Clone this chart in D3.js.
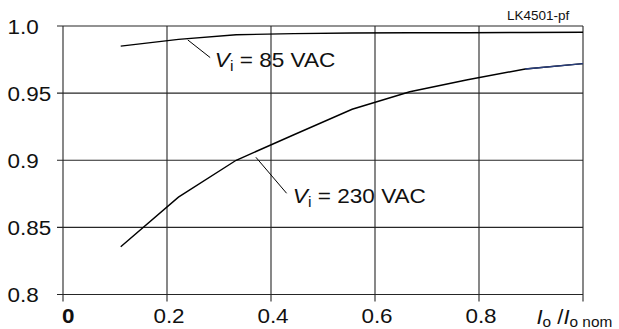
<!DOCTYPE html>
<html>
<head>
<meta charset="utf-8">
<script src="https://cdn.jsdelivr.net/npm/d3@7"></script>
<style>
  body { margin: 0; background: #fff; }
  svg { display: block; font-family: Arial, "Liberation Sans", sans-serif; }
</style>
</head>
<body>
<div id="chart"></div>
<script>
// Values
const xTicks = [0, 0.2, 0.4, 0.6, 0.8, 1.0];
const xTickLabels = ["0", "0.2", "0.4", "0.6", "0.8", ""];
const yTicks = [0.8, 0.85, 0.9, 0.95, 1.0];
const yTickLabels = ["0.8", "0.85", "0.9", "0.95", "1.0"];

// load fraction I_o / I_o nom
const load = [0.111, 0.222, 0.333, 0.444, 0.556, 0.667, 0.778, 0.889, 1.0];
// power factor at Vi = 85 VAC
const pf85 = [0.985, 0.990, 0.9935, 0.9943, 0.9948, 0.995, 0.995, 0.9952, 0.9953];
// power factor at Vi = 230 VAC
const pf230 = [0.8355, 0.8725, 0.9, 0.919, 0.938, 0.951, 0.960, 0.968, 0.972];

// label texts and where they point (data units)
const annotations = [
  { value: "85 VAC", from: [0.240, 0.9896], to: [0.283, 0.9765], at: [0.292, 0.9697] },
  { value: "230 VAC", from: [0.371, 0.9022], to: [0.430, 0.8754], at: [0.442, 0.8685] }
];

const width = 619, height = 329;

// Plot frame
let x = d3.scaleLinear().domain([0, 1]).range([63, 583]);
let y = d3.scaleLinear().domain([0.8, 1.0]).range([294.5, 26]);

let svg = d3.select("#chart").append("svg")
  .attr("width", width)
  .attr("height", height);

// Grid (horizontal lines stick out on the left, vertical ones below)
let gGrid = svg.append("g")
  .attr("stroke", "#262626")
  .attr("stroke-width", 1.1);

gGrid.selectAll("line.h")
  .data(yTicks)
  .enter().append("line")
  .attr("class", "h")
  .attr("x1", x(0) - 6)
  .attr("x2", x(1))
  .attr("y1", d => y(d))
  .attr("y2", d => y(d));

gGrid.selectAll("line.v")
  .data(xTicks)
  .enter().append("line")
  .attr("class", "v")
  .attr("x1", d => x(d))
  .attr("x2", d => x(d))
  .attr("y1", y(1.0))
  .attr("y2", y(0.8) + 7);

// Tick labels
svg.append("g")
  .selectAll("text")
  .data(yTicks)
  .enter().append("text")
  .attr("transform", d => "translate(7.5," + (y(d) + 7.5) + ") scale(1.07,1)")
  .attr("font-size", 21)
  .attr("fill", "#111")
  .text((d, i) => yTickLabels[i]);

svg.append("g")
  .selectAll("text")
  .data(xTicks)
  .enter().append("text")
  .attr("transform", (d, i) => "translate(" + (i === 0 ? x(d) - 1 : x(d) + 2) + ",323) scale(1.07,1)")
  .attr("text-anchor", (d, i) => i === 0 ? "start" : "middle")
  .attr("font-size", 21)
  .attr("font-weight", (d, i) => i === 0 ? "bold" : "normal")
  .attr("fill", "#111")
  .text((d, i) => xTickLabels[i]);

// Axis title  Io / Io nom
let xTitle = svg.append("text")
  .attr("transform", "translate(536.5,324) scale(1.1,1)")
  .attr("font-size", 20)
  .attr("fill", "#111");
xTitle.append("tspan").attr("font-style", "italic").text("I");
xTitle.append("tspan").attr("font-size", 14).attr("dy", 3).text("o");
xTitle.append("tspan").attr("dy", -3).text(" /");
xTitle.append("tspan").attr("font-style", "italic").text("I");
xTitle.append("tspan").attr("font-size", 14).attr("dy", 3).text("o nom");

// Figure id
svg.append("text")
  .attr("x", 507)
  .attr("y", 20)
  .attr("font-size", 13.5)
  .attr("fill", "#111")
  .text("LK4501-pf");

// Curves
let line = d3.line()
  .x(d => x(d[0]))
  .y(d => y(d[1]));

let gCurves = svg.append("g")
  .attr("fill", "none")
  .attr("stroke-width", 1.4);

gCurves.append("path")
  .datum(d3.zip(load, pf85))
  .attr("stroke", "#000")
  .attr("d", line);

gCurves.append("path")
  .datum(d3.zip(load, pf230))
  .attr("stroke", "#000")
  .attr("d", line);

// last piece of the 230 VAC curve is drawn in dark blue in the original
gCurves.append("path")
  .datum(d3.zip(load, pf230).slice(-2))
  .attr("stroke", "#2a3f7e")
  .attr("d", line);

// Annotations
let gAnn = svg.append("g");

gAnn.selectAll("line")
  .data(annotations)
  .enter().append("line")
  .attr("x1", d => x(d.from[0]))
  .attr("y1", d => y(d.from[1]))
  .attr("x2", d => x(d.to[0]))
  .attr("y2", d => y(d.to[1]))
  .attr("stroke", "#000")
  .attr("stroke-width", 1);

gAnn.selectAll("text")
  .data(annotations)
  .enter().append("text")
  .attr("transform", d => "translate(" + x(d.at[0]) + "," + y(d.at[1]) + ") scale(1.13,1)")
  .attr("font-size", 20)
  .attr("fill", "#111")
  .each(function(d) {
    let t = d3.select(this);
    t.append("tspan").attr("font-style", "italic").text("V");
    t.append("tspan").attr("font-size", 14).attr("dy", 4).text("i");
    t.append("tspan").attr("dy", -4).text(" = " + d.value);
  });
</script>
</body>
</html>
